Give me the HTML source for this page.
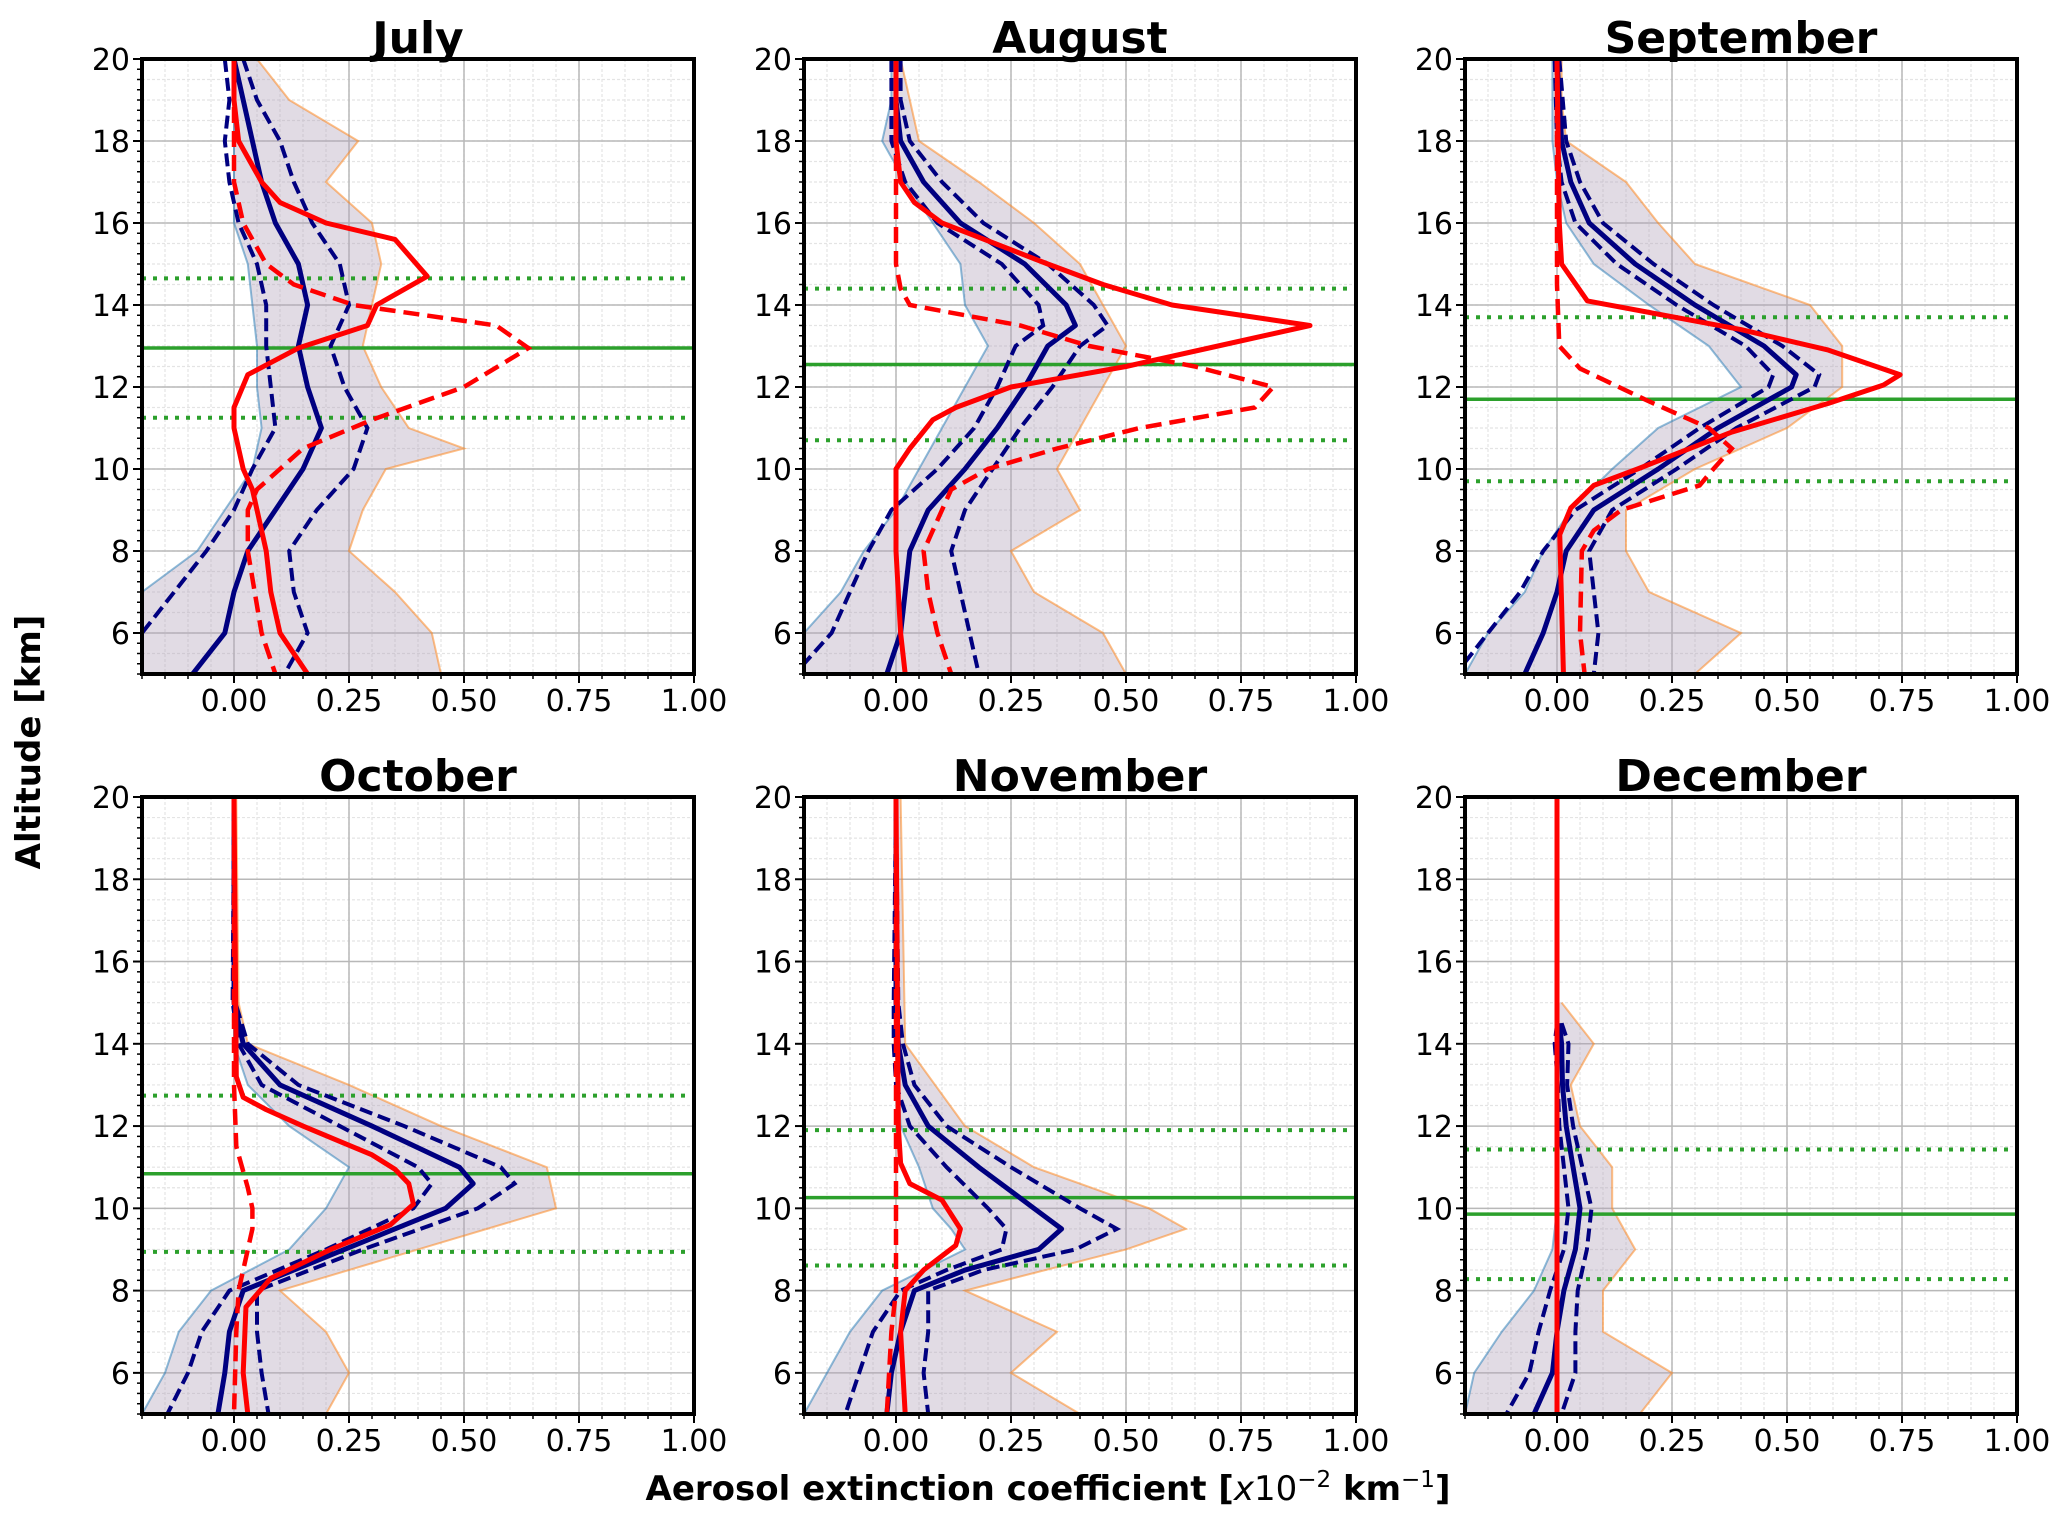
<!DOCTYPE html>
<html><head><meta charset="utf-8"><style>
html,body{margin:0;padding:0;background:#fff}
svg{display:block;font-family:"DejaVu Sans","Liberation Sans",sans-serif}
</style></head><body>
<svg id="fig" width="2067" height="1526" viewBox="0 0 2067 1526" xmlns="http://www.w3.org/2000/svg">
<text x="0" y="0" transform="translate(40,742) rotate(-90)" text-anchor="middle" font-size="34" font-weight="bold">Altitude [km]</text>
<text x="1048" y="1500" text-anchor="middle" font-size="34" font-weight="bold">Aerosol extinction coefficient [<tspan font-style="italic" font-weight="normal">x</tspan><tspan font-weight="normal">10</tspan><tspan font-weight="normal" font-size="23" dy="-13">−2</tspan><tspan dy="13"> km</tspan><tspan font-weight="normal" font-size="23" dy="-13">−1</tspan><tspan dy="13">]</tspan></text>
</svg>
<script>
const months = ["July","August","September","October","November","December"];
const xTicks = [0,0.25,0.5,0.75,1.0];
const xTickLabels = ["0.00","0.25","0.50","0.75","1.00"];
const yTicks = [6,8,10,12,14,16,18,20];
const yTickLabels = ["6","8","10","12","14","16","18","20"];
// mean profiles: [altitude, mean, std]
const julMean = [[20,0,0.02],[19,0.02,0.03],[18,0.04,0.06],[17,0.06,0.07],[16,0.09,0.08],[15,0.14,0.09],[14,0.16,0.09],[13,0.14,0.07],[12,0.16,0.08],[11,0.19,0.1],[10,0.15,0.11],[9,0.09,0.09],[8,0.03,0.09],[7,0,0.13],[6,-0.02,0.18],[5,-0.09,0.2]];
const augMean = [[20,0,0.01],[19,0,0.01],[18,0.01,0.02],[17,0.06,0.04],[16,0.14,0.05],[15,0.28,0.05],[14,0.37,0.06],[13.5,0.39,0.07],[13,0.33,0.07],[12,0.28,0.06],[11,0.22,0.05],[10,0.15,0.06],[9,0.07,0.08],[8,0.03,0.09],[7,0.02,0.12],[6,0.01,0.15],[5,-0.02,0.2]];
const sepMean = [[20,0,0.005],[18,0.01,0.01],[17,0.03,0.02],[16,0.07,0.03],[15,0.17,0.04],[14,0.3,0.04],[13,0.45,0.04],[12.3,0.52,0.05],[12,0.51,0.05],[11,0.35,0.04],[10,0.22,0.04],[9,0.08,0.04],[8,0.02,0.05],[7,0,0.08],[6,-0.03,0.12],[5,-0.07,0.15]];
const octMean = [[20,0,0],[15,0,0.003],[14,0.02,0.01],[13,0.1,0.04],[12,0.3,0.07],[11,0.49,0.09],[10.6,0.52,0.09],[10,0.46,0.07],[9,0.24,0.04],[8,0.02,0.03],[7,-0.01,0.06],[6,-0.02,0.08],[5,-0.035,0.11]];
const novMean = [[20,0,0],[15,0,0.005],[14,0.005,0.01],[13,0.02,0.02],[12,0.07,0.04],[11,0.18,0.07],[10,0.3,0.1],[9.5,0.36,0.12],[9,0.31,0.08],[8.5,0.15,0.04],[8,0.04,0.03],[7,0.01,0.06],[6,-0.01,0.07],[5,-0.02,0.09]];
const decMean = [[14.5,0.005,0.005],[14,0.01,0.015],[13,0.012,0.01],[12,0.02,0.015],[11,0.035,0.02],[10,0.05,0.025],[9,0.04,0.025],[8,0.015,0.03],[7,0,0.04],[6,-0.01,0.05],[5,-0.05,0.06]];
// individual-profile envelope: [altitude, min, max]
const julEnv = [[20,0,0.05],[19,0,0.12],[18,0,0.27],[17,0,0.2],[16,0,0.3],[15,0.03,0.32],[14,0.04,0.3],[13,0.05,0.28],[12,0.05,0.32],[11,0.06,0.38],[10.5,0.05,0.5],[10,0.04,0.33],[9,-0.02,0.28],[8,-0.08,0.25],[7,-0.2,0.35],[6,-0.2,0.43],[5,-0.2,0.45]];
const augEnv = [[20,-0.01,0.01],[19,-0.01,0.03],[18,-0.03,0.05],[17,0.02,0.18],[16,0.08,0.3],[15,0.14,0.4],[14,0.15,0.45],[13,0.2,0.5],[12,0.15,0.45],[11,0.1,0.4],[10,0.05,0.35],[9,0,0.4],[8,-0.07,0.25],[7,-0.12,0.3],[6,-0.2,0.45],[5,-0.2,0.5]];
const sepEnv = [[20,-0.01,0.01],[19,-0.01,0.01],[18,-0.01,0.02],[17,0,0.15],[16,0.02,0.22],[15,0.08,0.3],[14,0.2,0.55],[13,0.33,0.62],[12,0.4,0.62],[11,0.22,0.5],[10,0.12,0.3],[9,0.03,0.15],[8,-0.03,0.15],[7,-0.07,0.2],[6,-0.15,0.4],[5,-0.2,0.3]];
const octEnv = [[20,0,0.005],[15,0,0.01],[14,0,0.03],[13,0.03,0.25],[12,0.12,0.45],[11,0.25,0.68],[10,0.2,0.7],[9,0.12,0.4],[8,-0.05,0.1],[7,-0.12,0.2],[6,-0.15,0.25],[5,-0.2,0.2]];
const novEnv = [[20,0,0.01],[14,0,0.02],[12,0.01,0.15],[11,0.05,0.3],[10,0.08,0.55],[9.5,0.12,0.63],[9,0.15,0.5],[8,-0.03,0.15],[7,-0.1,0.35],[6,-0.15,0.25],[5,-0.2,0.4]];
const decEnv = [[15,0,0.01],[14,0,0.08],[13,0,0.03],[12,0,0.05],[11,0,0.12],[10,0,0.12],[9,-0.01,0.17],[8,-0.05,0.1],[7,-0.12,0.1],[6,-0.18,0.25],[5,-0.2,0.18]];
// red solid model profiles: [altitude, value]
const julRed = [[20,0],[19,0],[18,0.01],[17,0.06],[16.5,0.1],[16,0.2],[15.6,0.35],[14.7,0.42],[14,0.31],[13.5,0.29],[12.95,0.14],[12.3,0.03],[11.5,0],[11,0],[10,0.02],[9.5,0.04],[8,0.07],[7,0.08],[6,0.1],[5,0.16]];
const augRed = [[20,0],[18,0],[17,0.01],[16.5,0.04],[16,0.1],[15,0.33],[14.5,0.45],[14,0.6],[13.5,0.9],[13,0.7],[12.5,0.5],[12,0.25],[11.5,0.13],[11.2,0.08],[10.5,0.03],[10,0],[8,0],[6,0.01],[5,0.02]];
const sepRed = [[20,0],[16,0.005],[15,0.01],[14.1,0.066],[13.4,0.4],[12.9,0.59],[12.3,0.746],[12.05,0.71],[11.6,0.59],[10.9,0.38],[10,0.175],[9.6,0.08],[9.05,0.03],[8.4,0.006],[5,0.014]];
const octRed = [[20,0],[13.2,0.005],[12.7,0.02],[12.4,0.07],[12,0.15],[11.3,0.3],[10.95,0.35],[10.6,0.38],[10.1,0.39],[9.6,0.34],[9,0.21],[8.3,0.08],[7.6,0.026],[6,0.02],[5,0.03]];
const novRed = [[20,0],[12,0.005],[11.1,0.01],[10.6,0.03],[10.2,0.1],[9.5,0.14],[9.1,0.13],[8.5,0.06],[8,0.02],[7,0.01],[5,0.02]];
const decRed = [[20,0],[5,0]];
// red dashed profiles
const julRedD = [[20,0],[17,0],[16,0.02],[15,0.07],[14.5,0.13],[14,0.26],[13.5,0.57],[12.95,0.64],[12,0.5],[11.2,0.3],[10.5,0.15],[10,0.1],[9.5,0.05],[9,0.03],[8,0.03],[6,0.06],[5,0.09]];
const augRedD = [[20,0],[15,0],[14.4,0.01],[14,0.03],[13.5,0.27],[13,0.42],[12.5,0.65],[12,0.82],[11.5,0.78],[11,0.53],[10.5,0.35],[10,0.2],[9.5,0.12],[9,0.1],[8.5,0.08],[8,0.06],[7,0.07],[6,0.09],[5,0.12]];
const sepRedD = [[20,0],[14.5,0],[13,0.005],[12.45,0.05],[11.65,0.2],[11,0.33],[10.5,0.38],[10,0.34],[9.6,0.31],[9,0.14],[8.5,0.08],[8,0.054],[6,0.05],[5,0.06]];
const octRedD = [[20,0],[13,0],[11.5,0.005],[10.5,0.03],[10,0.04],[9.5,0.04],[9,0.03],[8.5,0.02],[8,0.01],[7,0.005],[5,0]];
const novRedD = [[20,0],[8,0],[7,-0.01],[6,-0.015],[5,-0.02]];
const decRedD = [[20,0],[5,0]];
// green reference levels: [centre, lower, upper]
const greenLevels = [[12.95,11.25,14.65],[12.55,10.7,14.4],[11.7,9.7,13.7],[10.84,8.94,12.74],[10.26,8.61,11.9],[9.86,8.28,11.43]];

const meanData=[julMean,augMean,sepMean,octMean,novMean,decMean];
const envData=[julEnv,augEnv,sepEnv,octEnv,novEnv,decEnv];
const redData=[julRed,augRed,sepRed,octRed,novRed,decRed];
const redDData=[julRedD,augRedD,sepRedD,octRedD,novRedD,decRedD];

const NS="http://www.w3.org/2000/svg";
const svg=document.getElementById('fig');
const colL=[142,804,1465], rowT=[59,797], rowB=[674,1414], W=552;
const XMIN=-0.2,XMAX=1.0,YMIN=5,YMAX=20;
function mk(tag,attrs,parent){const e=document.createElementNS(NS,tag);for(const k in attrs)e.setAttribute(k,attrs[k]);(parent||svg).appendChild(e);return e;}

months.forEach((m,i)=>{
  const L=colL[i%3], T=rowT[Math.floor(i/3)], B=rowB[Math.floor(i/3)], R=L+W, H=B-T;
  const sx=v=>L+(v-XMIN)/(XMAX-XMIN)*W;
  const sy=a=>B-(a-YMIN)/(YMAX-YMIN)*H;
  const g=mk('g',{});
  
  
  const cp=mk('clipPath',{id:'c'+i},g); mk('rect',{x:L,y:T,width:W,height:H},cp);
  for(let v=-0.2;v<=1.0001;v+=0.05){mk('line',{x1:sx(v),x2:sx(v),y1:T,y2:B,stroke:'#e4e4e4','stroke-width':1.2,'stroke-dasharray':'3,2'},g);}
  for(let a=5;a<=20;a+=0.5){mk('line',{x1:L,x2:R,y1:sy(a),y2:sy(a),stroke:'#e4e4e4','stroke-width':1.2,'stroke-dasharray':'3,2'},g);}
  xTicks.forEach(v=>{const l=mk('line',{x1:sx(v),x2:sx(v),y1:T,y2:B,stroke:'#b8b8b8','stroke-width':1.5},g);});
  yTicks.forEach(a=>{const l=mk('line',{x1:L,x2:R,y1:sy(a),y2:sy(a),stroke:'#b8b8b8','stroke-width':1.5},g);});
  const dg=mk('g',{'clip-path':'url(#c'+i+')'},g);
  const env=envData[i];
  let pts=env.map(p=>sx(p[2])+','+sy(p[0])).concat(env.slice().reverse().map(p=>sx(p[1])+','+sy(p[0])));
  const ep=mk('polygon',{points:pts.join(' '),fill:'rgba(175,160,185,0.38)',stroke:'none'},dg);
  
  
  const e1=mk('polyline',{points:env.map(p=>sx(p[2])+','+sy(p[0])).join(' '),fill:'none',stroke:'rgba(255,127,14,0.5)','stroke-width':2},dg);
  
  
  const e2=mk('polyline',{points:env.map(p=>sx(p[1])+','+sy(p[0])).join(' '),fill:'none',stroke:'rgba(31,119,180,0.5)','stroke-width':2},dg);
  
  
  const gl=greenLevels[i];
  const gs=mk('line',{x1:L,x2:R,y1:sy(gl[0]),y2:sy(gl[0]),stroke:'#2ca02c','stroke-width':3.5},dg);
  
  
  [gl[1],gl[2]].forEach(a=>{const d=mk('line',{x1:L,x2:R,y1:sy(a),y2:sy(a),stroke:'#2ca02c','stroke-width':4,'stroke-dasharray':'4,7'},dg);});
  const mn=meanData[i];
  const lp=mk('polyline',{points:mn.map(p=>sx(p[1]-p[2])+','+sy(p[0])).join(' '),fill:'none',stroke:'#000080','stroke-width':4,'stroke-dasharray':'13,6'},dg);
  
  
  const hp=mk('polyline',{points:mn.map(p=>sx(p[1]+p[2])+','+sy(p[0])).join(' '),fill:'none',stroke:'#000080','stroke-width':4,'stroke-dasharray':'13,6'},dg);
  
  
  const mp=mk('polyline',{points:mn.map(p=>sx(p[1])+','+sy(p[0])).join(' '),fill:'none',stroke:'#000080','stroke-width':5,'stroke-linejoin':'round'},dg);
  
  
  const rd=mk('polyline',{points:redDData[i].map(p=>sx(p[1])+','+sy(p[0])).join(' '),fill:'none',stroke:'#ff0000','stroke-width':4.5,'stroke-dasharray':'16,8'},dg);
  
  
  const rs=mk('polyline',{points:redData[i].map(p=>sx(p[1])+','+sy(p[0])).join(' '),fill:'none',stroke:'#ff0000','stroke-width':5,'stroke-linejoin':'round'},dg);
  
  
  const fr=mk('rect',{x:L,y:T,width:W,height:H,fill:'none',stroke:'#000','stroke-width':4},g);
  
  
  for(let a=5;a<=20.001;a+=0.25){const maj=Math.abs(a/2-Math.round(a/2))<1e-6;mk('line',{x1:L-(maj?9:5),x2:L,y1:sy(a),y2:sy(a),stroke:'#000','stroke-width':maj?2:1.5},g);}
  for(let v=-0.2;v<=1.0001;v+=0.05){const maj=xTicks.some(t=>Math.abs(t-v)<1e-6);mk('line',{x1:sx(v),x2:sx(v),y1:B,y2:B+(maj?9:5),stroke:'#000','stroke-width':maj?2:1.5},g);}
  yTicks.forEach((a,k)=>{const t=mk('text',{x:L-12,y:sy(a)+11,'text-anchor':'end','font-size':30},g);t.textContent=yTickLabels[k];});
  xTicks.forEach((v,k)=>{const t=mk('text',{x:sx(v),y:B+37,'text-anchor':'middle','font-size':30},g);t.textContent=xTickLabels[k];});
  const ti=mk('text',{x:L+W/2,y:T-6,'text-anchor':'middle','font-size':44,'font-weight':'bold'},g);
  ti.textContent=m;
  
  
});
</script>
</body></html>
